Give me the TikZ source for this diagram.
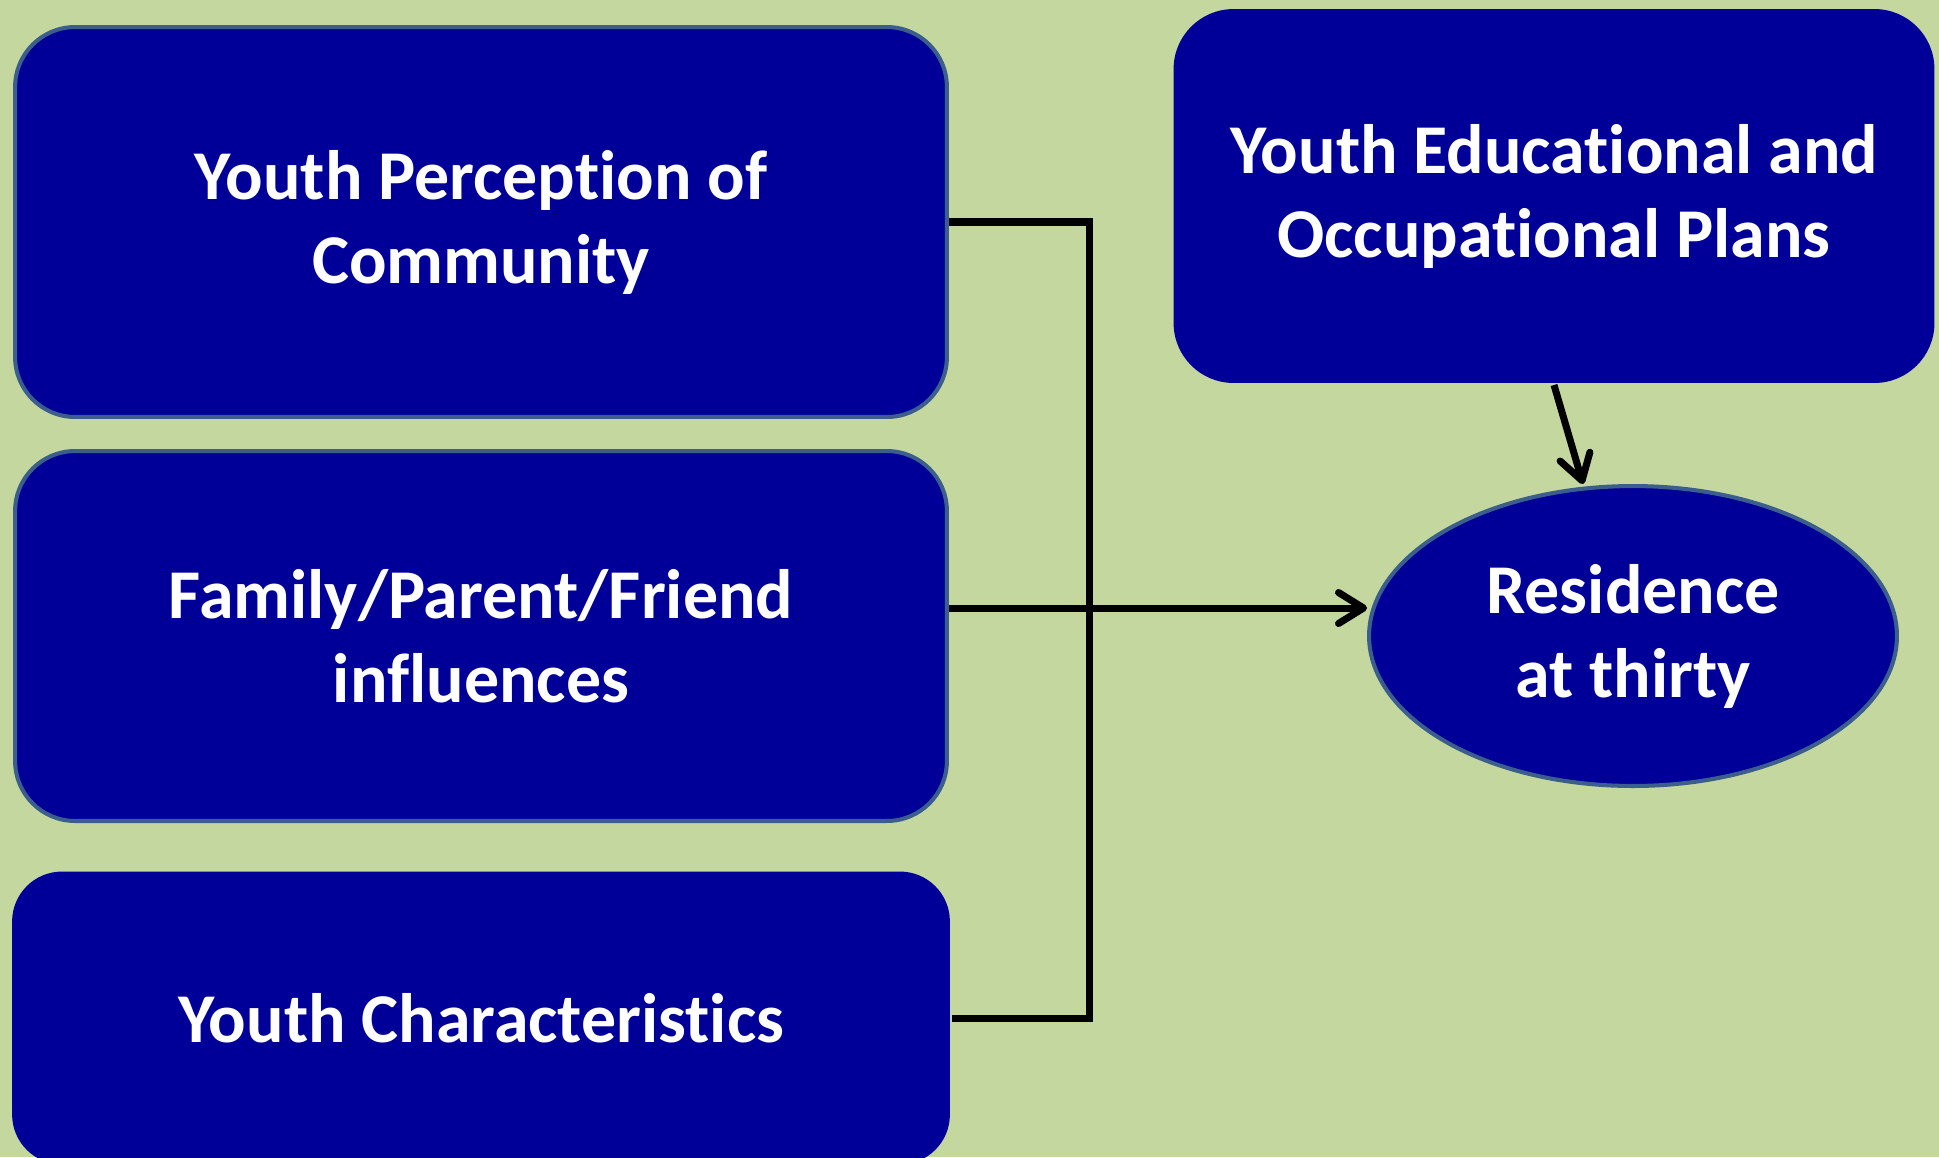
\documentclass[tikz,border=0pt]{standalone}
\usepackage{fontspec}
\setmainfont[Ligatures=NoCommon]{Carlito}
\usepackage{tikz}
\usetikzlibrary{arrows.meta}
\usetikzlibrary{shapes.geometric}

\begin{document}
\begin{tikzpicture}[x=0.02cm,y=-0.02cm,
  factor/.style={draw=edgeColor, line width=2.3pt, fill=boxColor, rounded corners=1.2cm, text=white, align=center, inner sep=0pt, font=\bfseries\fontsize{39.8}{47.8}\selectfont},
  plain/.style={factor, draw=none},
  outcome/.style={factor, ellipse, rounded corners=0pt},
  link/.style={line width=4pt, color=black},
  arr/.style={link, -{Straight Barb[length=0.5cm, width=0.62cm, line cap=round, line join=round]}}]
\definecolor{bgColor}{RGB}{196,215,159}
\definecolor{boxColor}{RGB}{0,0,153}
\definecolor{edgeColor}{RGB}{59,94,140}
\fill[bgColor] (0,0) rectangle (1939,1157);
\useasboundingbox (0,0) rectangle (1939,1157);
\node[factor, minimum width=18.64cm, minimum height=7.8cm] (percep) at (481,222) {Youth Perception of\\Community};
\node[factor, minimum width=18.64cm, minimum height=7.4cm] (family) at (481,636) {Family/Parent/Friend\\influences};
\node[plain, minimum width=18.76cm, minimum height=5.86cm, rounded corners=1cm] (chars) at (481,1018) {Youth Characteristics};
\node[plain, minimum width=15.22cm, minimum height=7.48cm] (plans) at (1554,196) {Youth Educational and\\Occupational Plans};
\node[outcome, minimum width=10.56cm, minimum height=6cm] (resid) at (1633,636) {Residence\\at thirty};
\draw[link] (percep.east) -- ++(141,0) coordinate (bustop) -- (bustop |- chars.east) -- (chars.east);
\draw[arr] ([yshift=0.56cm]family.east) -- ([yshift=0.56cm]family.east -| resid.west);
\draw[arr] (plans.south) -- ([xshift=-1cm]resid.north);
\end{tikzpicture}
\end{document}
